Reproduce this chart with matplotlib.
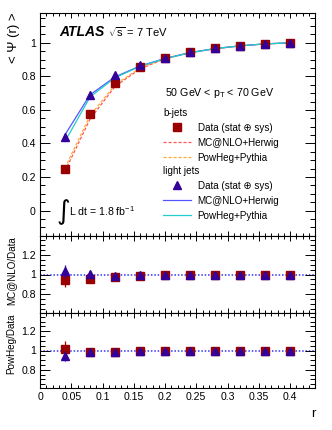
import matplotlib
matplotlib.use("Agg")
import matplotlib.pyplot as plt
from matplotlib.lines import Line2D
from matplotlib.ticker import MultipleLocator

plt.rcParams['font.family'] = ['Liberation Sans', 'DejaVu Sans']
plt.rcParams['mathtext.fontset'] = 'custom'
plt.rcParams['mathtext.rm'] = 'Liberation Sans'
plt.rcParams['mathtext.it'] = 'Liberation Sans:italic'
plt.rcParams['mathtext.sf'] = 'Liberation Sans'

# Datos
r = [0.04, 0.08, 0.12, 0.16, 0.20, 0.24, 0.28, 0.32, 0.36, 0.40]

b_data = [0.248, 0.575, 0.76, 0.855, 0.912, 0.945, 0.967, 0.983, 0.995, 1.0]
b_err = [0.012, 0.012, 0.010, 0.008, 0.006, 0.005, 0.004, 0.003, 0.002, 0.001]
l_data = [0.438, 0.687, 0.81, 0.868, 0.912, 0.945, 0.967, 0.983, 0.995, 1.0]
l_err = [0.012, 0.010, 0.008, 0.006, 0.005, 0.004, 0.003, 0.002, 0.002, 0.001]

b_mcnlo = [0.235, 0.545, 0.74, 0.845, 0.905, 0.94, 0.965, 0.982, 0.994, 1.0]
b_powheg = [0.255, 0.565, 0.75, 0.85, 0.908, 0.942, 0.966, 0.982, 0.994, 1.0]
l_mcnlo = [0.452, 0.69, 0.797, 0.862, 0.907, 0.942, 0.966, 0.982, 0.994, 1.0]
l_powheg = [0.412, 0.677, 0.792, 0.86, 0.906, 0.941, 0.966, 0.982, 0.994, 1.0]

# Cocientes MC/Data
rat1_b = [0.943, 0.95, 0.977, 0.987, 0.993, 0.995, 0.997, 0.999, 1.0, 1.0]
rat1_b_err = [0.07, 0.03, 0.015, 0.01, 0.008, 0.006, 0.005, 0.004, 0.003, 0.002]
rat1_l = [1.033, 1.007, 0.98, 0.99, 0.995, 0.997, 0.998, 0.999, 1.0, 1.0]
rat1_l_err = [0.065, 0.03, 0.015, 0.01, 0.008, 0.006, 0.005, 0.004, 0.003, 0.002]
rat2_b = [1.02, 0.985, 0.985, 0.99, 0.997, 0.998, 0.999, 1.0, 1.0, 1.0]
rat2_b_err = [0.08, 0.03, 0.015, 0.01, 0.008, 0.006, 0.005, 0.004, 0.003, 0.002]
rat2_l = [0.94, 0.985, 0.98, 0.99, 0.995, 0.998, 0.999, 1.0, 1.0, 1.0]
rat2_l_err = [0.05, 0.03, 0.015, 0.01, 0.008, 0.006, 0.005, 0.004, 0.003, 0.002]

W, H = 332, 430
fig = plt.figure(figsize=(W / 100, H / 100), dpi=100)


def box(top, bottom, left=40, right=315):
    return [left / W, 1 - bottom / H, (right - left) / W, (bottom - top) / H]


ax = fig.add_axes(box(12.7, 236))
ax1 = fig.add_axes(box(236, 313), sharex=ax)
ax2 = fig.add_axes(box(313, 388), sharex=ax)

c_b = '#990000'
c_l = '#330099'
fs = 7.1
tfs = 7.6

ax.plot(r, b_mcnlo, color='#ff5555', lw=0.9, ls=(0, (2.5, 1.5)))
ax.plot(r, b_powheg, color='#ffaa33', lw=0.9, ls=(0, (2.5, 1.5)))
ax.plot(r, l_mcnlo, color='#5555ff', lw=0.9)
ax.plot(r, l_powheg, color='#22cccc', lw=0.9)
ax.errorbar(r, b_data, yerr=b_err, fmt='s', color=c_b, ms=5.4, lw=0.8, capsize=0, zorder=5)
ax.errorbar(r, l_data, yerr=l_err, fmt='^', color=c_l, ms=5.6, lw=0.8, capsize=0, zorder=6)

for a, rb, rbe, rl, rle in [(ax1, rat1_b, rat1_b_err, rat1_l, rat1_l_err),
                            (ax2, rat2_b, rat2_b_err, rat2_l, rat2_l_err)]:
    a.axhline(1, color='#3333ff', lw=1.1, ls=(0, (1, 1.2)), zorder=1)
    a.errorbar(r, rb, yerr=rbe, fmt='s', color=c_b, ms=5.4, lw=0.9, capsize=0, zorder=5)
    a.errorbar(r, rl, yerr=rle, fmt='^', color=c_l, ms=5.6, lw=0.9, capsize=0, zorder=6)
    a.set_ylim(0.61, 1.39)
    a.yaxis.set_minor_locator(MultipleLocator(0.05))
    a.set_yticks([0.8, 1.0, 1.2])
    a.set_yticklabels(['0.8', '1', '1.2'])

ax.set_xlim(0, 0.44)
ax.set_ylim(-0.152, 1.18)
ax.yaxis.set_minor_locator(MultipleLocator(0.05))
ax.set_yticks([0, 0.2, 0.4, 0.6, 0.8, 1.0])
ax.set_yticklabels(['0', '0.2', '0.4', '0.6', '0.8', '1'])
ax.xaxis.set_minor_locator(MultipleLocator(0.01))

for a in (ax, ax1, ax2):
    a.tick_params(which='both', direction='in', top=True, right=True, labelsize=tfs, pad=3)
    a.tick_params(axis='y', which='major', length=7, width=0.7)
    a.tick_params(axis='y', which='minor', length=3.5, width=0.7)
    a.tick_params(axis='x', which='major', length=3.5, width=0.7)
    a.tick_params(axis='x', which='minor', length=2, width=0.7)
    for s in a.spines.values():
        s.set_linewidth(0.8)

ax.tick_params(labelbottom=False)
ax1.tick_params(labelbottom=False)
ax2.set_xticks([0, 0.05, 0.1, 0.15, 0.2, 0.25, 0.3, 0.35, 0.4])
ax2.set_xticklabels(['0', '0.05', '0.1', '0.15', '0.2', '0.25', '0.3', '0.35', '0.4'])
ax2.xaxis.set_minor_locator(MultipleLocator(0.01))

ax.set_ylabel('< \u03a8 (r) >', loc='top', fontsize=9.5)
ax1.set_ylabel('MC@NLO/Data', loc='top', fontsize=fs)
ax2.set_ylabel('PowHeg/Data', loc='top', fontsize=fs)
ax.yaxis.set_label_coords(-0.072, 1.0)
ax1.yaxis.set_label_coords(-0.085, 1.0)
ax2.yaxis.set_label_coords(-0.085, 1.0)
ax2.set_xlabel('r', loc='right', fontsize=9.5, labelpad=4)


def fx(x):
    return x / W


def fy(y):
    return 1 - y / H


fig.text(fx(59), fy(32), 'ATLAS', fontsize=10, fontweight='bold', fontstyle='italic', va='center')
fig.text(fx(108), fy(32), r'$\sqrt{\mathrm{s}}$ = 7 TeV', fontsize=8, va='center')
fig.text(fx(165), fy(93), r'50 GeV < p$_{\mathrm{T}}$ < 70 GeV', fontsize=7.7, va='center')
fig.text(fx(57), fy(212), '\u222b', fontsize=19, va='center', family=['DejaVu Sans'])
fig.text(fx(69), fy(211), r'L dt = 1.8 fb$^{-1}$', fontsize=7.6, va='center')

b_handles = [Line2D([], [], ls='none', marker='s', color=c_b, ms=5.4),
             Line2D([], [], color='#ff5555', lw=0.9, ls=(0, (2.5, 1.5))),
             Line2D([], [], color='#ffaa33', lw=0.9, ls=(0, (2.5, 1.5)))]
l_handles = [Line2D([], [], ls='none', marker='^', color=c_l, ms=5.6),
             Line2D([], [], color='#5555ff', lw=0.9),
             Line2D([], [], color='#22cccc', lw=0.9)]
labels = ['Data (stat \u2295 sys)', 'MC@NLO+Herwig', 'PowHeg+Pythia']

for handles, title, top in [(b_handles, 'b-jets', 108), (l_handles, 'light jets', 166)]:
    fig.legend(handles, labels, title=title, loc='upper left',
               bbox_to_anchor=(fx(163), fy(top)), frameon=False, fontsize=fs,
               title_fontsize=fs, alignment='left', borderpad=0, borderaxespad=0,
               handlelength=2.8, handletextpad=0.7, labelspacing=0.5, numpoints=1)

fig.savefig('out.png', dpi=100)
